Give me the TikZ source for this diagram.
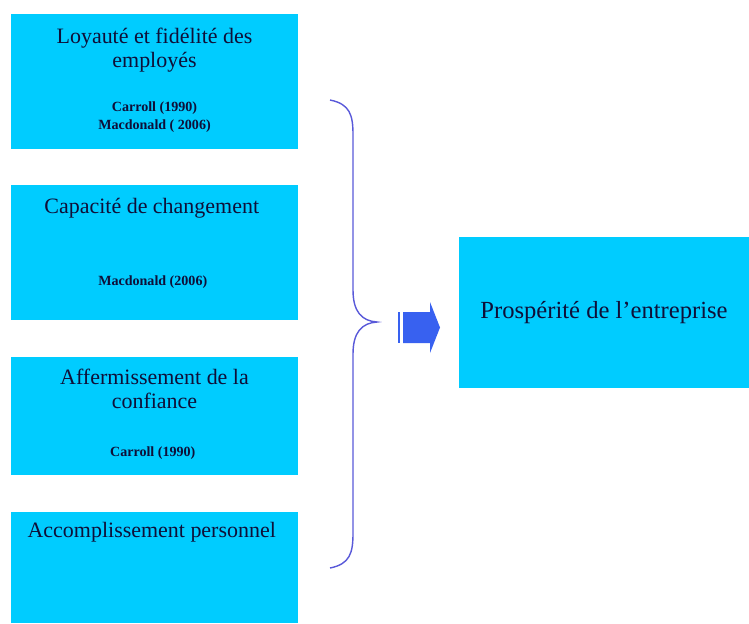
\documentclass[tikz,border=0pt]{standalone}
\usepackage{fontspec}
\setmainfont{Liberation Serif}
\usepackage{tikz}
\definecolor{boxcyan}{rgb}{0.0, 0.80, 1.0}
\definecolor{inknavy}{rgb}{0.06, 0.06, 0.22}
\definecolor{bracevio}{rgb}{0.35, 0.35, 0.85}
\definecolor{arrowblue}{rgb}{0.22, 0.38, 0.94}

\begin{document}
\begin{tikzpicture}[x=0.02cm,y=-0.02cm,
  facteur/.style={fill=boxcyan, inner sep=0pt},
  titre/.style={text=inknavy, font=\fontsize{12.5}{14}\selectfont, align=center},
  ref/.style={text=inknavy, font=\fontsize{8}{10}\selectfont\bfseries, align=center}]
\useasboundingbox (0,0) rectangle (749,623);
\node[facteur, minimum width=287*0.02cm, minimum height=135*0.02cm] (loyaute) at (154.5,81.5) {};
\node[facteur, minimum width=287*0.02cm, minimum height=135*0.02cm] (capacite) at (154.5,252.5) {};
\node[facteur, minimum width=287*0.02cm, minimum height=118*0.02cm] (confiance) at (154.5,416) {};
\node[facteur, minimum width=287*0.02cm, minimum height=111*0.02cm] (accompl) at (154.5,567.5) {};
\node[facteur, minimum width=290*0.02cm, minimum height=151*0.02cm] (prosperite) at (604,312.5) {};
\draw (154.5,50) node[titre] { Loyauté et fidélité des\\employés };
\draw (154.5,117) node[ref] { Carroll (1990)\\Macdonald ( 2006) };
\draw (154.5,208) node[titre] { Capacité de changement };
\draw (154.5,282) node[ref] { Macdonald (2006) };
\draw (154.5,389) node[titre] { Affermissement de la\\confiance };
\draw (154.5,453) node[ref] { Carroll (1990) };
\draw (154.5,532) node[titre] { Accomplissement personnel };
\draw (prosperite.center) node[text=inknavy, font=\fontsize{14}{16}\selectfont] { Prospérité de l’entreprise };
% accolade
\coordinate (tip) at (377,322);
\draw[bracevio, line width=0.8pt] (330,100) .. controls (350,104) and (353,115) .. (353,135)
  -- (353,290) .. controls (353,312) and (362,321) .. (tip)
  .. controls (362,323) and (353,332) .. (353,354)
  -- (353,533) .. controls (353,553) and (350,564) .. (330,568);
% fleche
\fill[arrowblue] (398,312) rectangle (400,343);
\fill[arrowblue] (403,312) -- (430,312) -- (430,302) -- (440,327.5) -- (430,353) -- (430,343) -- (403,343) -- cycle;
\end{tikzpicture}
\end{document}
